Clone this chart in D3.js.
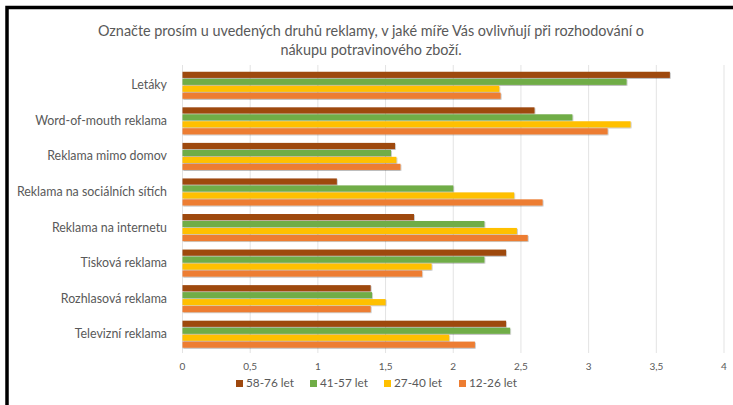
<!DOCTYPE html>
<html>
<head>
<meta charset="utf-8">
<script src="https://cdn.jsdelivr.net/npm/d3@7"></script>
<style>
  html, body { margin: 0; padding: 0; background: #fff; }
  svg { display: block; }
</style>
</head>
<body>
<div id="chart"></div>
<script>
// categories top to bottom
const CATEGORIES = [
  'Letáky',
  'Word-of-mouth reklama',
  'Reklama mimo domov',
  'Reklama na sociálních sítích',
  'Reklama na internetu',
  'Tisková reklama',
  'Rozhlasová reklama',
  'Televizní reklama',
];

const SERIES = ['58-76 let', '41-57 let', '27-40 let', '12-26 let'];
const COLORS = ['#9E480E', '#70AD47', '#FFC000', '#ED7D31'];

// values per series, same order as CATEGORIES
const V_58_76 = [3.60, 2.60, 1.57, 1.14, 1.71, 2.39, 1.39, 2.39];
const V_41_57 = [3.28, 2.88, 1.54, 2.00, 2.23, 2.23, 1.40, 2.42];
const V_27_40 = [2.34, 3.31, 1.58, 2.45, 2.47, 1.84, 1.50, 1.97];
const V_12_26 = [2.35, 3.14, 1.61, 2.66, 2.55, 1.77, 1.39, 2.16];
const VALUES = [V_58_76, V_41_57, V_27_40, V_12_26];

const TICKS = [0, 0.5, 1, 1.5, 2, 2.5, 3, 3.5, 4];

const TITLE = [
  'Označte prosím u uvedených druhů reklamy, v jaké míře Vás ovlivňují při rozhodování o',
  'nákupu potravinového zboží.',
];

const W = 733, H = 405;
const FONT = 'Lato, "Open Sans", sans-serif';
const TXT = '#595959';

const svg = d3.select('#chart').append('svg')
  .attr('width', W).attr('height', H);

svg.append('rect').attr('width', W).attr('height', H).attr('fill', '#fff');

// frame (left + top black edge)
svg.append('path')
  .attr('d', `M7,${H} V7.5 H${W}`)
  .attr('fill', 'none').attr('stroke', '#000').attr('stroke-width', 3.5);

const defs = svg.append('defs');
const f = defs.append('filter').attr('id', 'sh')
  .attr('x', '-5%').attr('y', '-50%').attr('width', '110%').attr('height', '200%');
f.append('feDropShadow').attr('dx', 0.6).attr('dy', 0.8)
  .attr('stdDeviation', 0.6).attr('flood-color', '#000').attr('flood-opacity', 0.35);

// title
svg.append('g').selectAll('text').data(TITLE).join('text')
  .attr('x', 371).attr('y', (d, i) => 36 + i * 19)
  .attr('text-anchor', 'middle')
  .attr('font-family', FONT).attr('font-size', 14.4)
  .attr('fill', TXT)
  .text(d => d);

const x = d3.scaleLinear().domain([0, 4]).range([182.5, 724]);
const y = d3.scaleBand().domain(CATEGORIES).range([67.5, 352]).paddingInner(0.24).paddingOuter(0.12);
const ySub = d3.scaleBand().domain(SERIES).range([0, y.bandwidth()]).paddingInner(0.12);

// gridlines
svg.append('g').selectAll('line').data(TICKS).join('line')
  .attr('x1', d => x(d)).attr('x2', d => x(d))
  .attr('y1', 65).attr('y2', 353)
  .attr('stroke', '#e3e3e3').attr('stroke-width', 1);

// tick labels
svg.append('g').selectAll('text').data(TICKS).join('text')
  .attr('x', d => x(d)).attr('y', 370)
  .attr('text-anchor', 'middle')
  .attr('font-family', FONT).attr('font-size', 10)
  .attr('fill', TXT)
  .text(d => String(d).replace('.', ','));

// category labels
svg.append('g').selectAll('text').data(CATEGORIES).join('text')
  .attr('x', 167).attr('y', d => y(d) + y.bandwidth() / 2 + 4)
  .attr('text-anchor', 'end')
  .attr('font-family', FONT).attr('font-size', 12.4)
  .attr('fill', TXT)
  .text(d => d);

// bars
const groups = svg.append('g').selectAll('g').data(CATEGORIES).join('g')
  .attr('transform', d => `translate(0,${y(d)})`);

groups.selectAll('rect')
  .data((c, ci) => SERIES.map((s, si) => ({ s, si, v: VALUES[si][ci] })))
  .join('rect')
  .attr('x', x(0))
  .attr('y', d => ySub(d.s))
  .attr('width', d => x(d.v) - x(0))
  .attr('height', ySub.bandwidth())
  .attr('fill', d => COLORS[d.si])
  .attr('filter', 'url(#sh)');

// legend
const legX = [236, 310, 384, 459];
const leg = svg.append('g').selectAll('g').data(SERIES).join('g')
  .attr('transform', (d, i) => `translate(${legX[i]},387)`);
leg.append('rect')
  .attr('x', 0).attr('y', -7).attr('width', 7).attr('height', 7)
  .attr('fill', (d, i) => COLORS[i]);
leg.append('text')
  .attr('x', 10).attr('y', 0)
  .attr('font-family', FONT).attr('font-size', 11.8)
  .attr('fill', TXT)
  .text(d => d);
</script>
</body>
</html>
